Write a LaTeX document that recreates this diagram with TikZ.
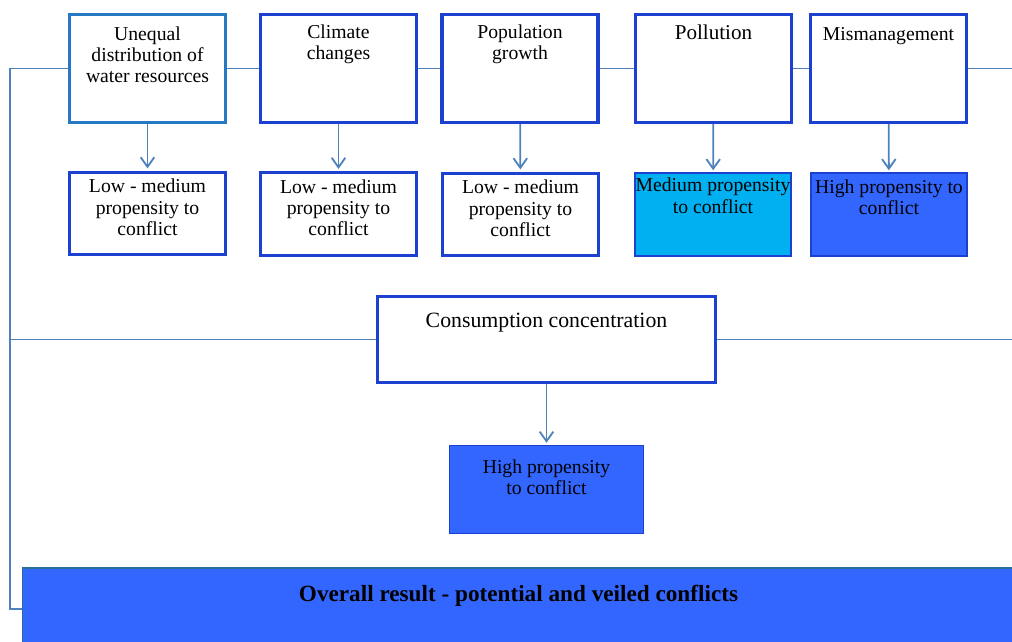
\documentclass[tikz,border=0pt]{standalone}
\usepackage{fontspec}
\setmainfont{Liberation Serif}
\usetikzlibrary{arrows.meta}

\definecolor{boxblue}{RGB}{28,64,208}
\definecolor{firstblue}{RGB}{36,120,196}
\definecolor{lineblue}{RGB}{79,129,189}
\definecolor{hiblue}{RGB}{51,102,255}
\definecolor{midcyan}{RGB}{0,176,240}
\definecolor{edgeteal}{RGB}{40,110,150}

\tikzstyle{factor} = [rectangle, draw=boxblue, line width=2.2pt, fill=white,
minimum width=3.9cm, minimum height=2.7cm, inner sep=0pt]
\tikzstyle{outcome} = [rectangle, draw=boxblue, line width=2.2pt, fill=white,
minimum width=3.9cm, minimum height=2.07cm, inner sep=0pt]
\tikzstyle{txt} = [align=center, anchor=north, inner sep=0pt, font=\fontsize{14}{15}\selectfont]
\tikzstyle{line} = [draw=lineblue, line width=1.3pt]
\tikzstyle{arrow} = [line,-{Straight Barb[length=2.4mm,width=3.4mm]},shorten >=1.5pt]

\begin{document}
\begin{tikzpicture}[x=0.025cm,y=-0.025cm]

\useasboundingbox (0,0) rectangle (1012,641);

% Causes on the top row
\node[factor, draw=firstblue, label={[txt,yshift=-9.5pt]north:{Unequal\\distribution of\\water resources}}] (unequal) at (147.5,68.5) {};
\node[factor, label={[txt,yshift=-8pt]north:{Climate\\changes}}] (climate) at (338.5,68.5) {};
\node[factor, label={[txt,yshift=-8pt]north:{Population\\growth}}] (population) at (520,68.5) {};
\node[factor, label={[txt,yshift=-8pt,font=\fontsize{15}{16}\selectfont]north:{Pollution}}] (pollution) at (713.5,68.5) {};
\node[factor, label={[txt,yshift=-10pt]north:{Mismanagement}}] (mismanage) at (888.5,68.5) {};

% Propensity for each cause
\node[outcome, label={[txt,yshift=-6pt]north:{Low - medium\\propensity to\\conflict}}] (lowA) at (147.5,213.5) {};
\node[outcome, label={[txt,yshift=-6pt]north:{Low - medium\\propensity to\\conflict}}] (lowB) at (338.5,214) {};
\node[outcome, label={[txt,yshift=-6pt]north:{Low - medium\\propensity to\\conflict}}] (lowC) at (520.5,214.5) {};
\node[outcome, fill=midcyan, line width=1pt, label={[txt,yshift=-4pt]north:{Medium propensity\\to conflict}}] (medium) at (713,214.5) {};
\node[outcome, fill=hiblue, line width=1pt, label={[txt,yshift=-5pt]north:{High propensity to\\conflict}}] (highA) at (889,214.5) {};

% Consumption and overall result
\node[factor, line width=1.6pt, minimum width=8.45cm, minimum height=2.15cm,
label={[txt,yshift=-12.5pt,font=\fontsize{15.5}{17}\selectfont]north:{Consumption concentration}}] (consumption) at (546.5,339.5) {};
\node[outcome, fill=hiblue, line width=0.8pt, minimum width=4.85cm, minimum height=2.2cm,
label={[txt,yshift=-10.5pt]north:{High propensity\\to conflict}}] (highB) at (546.5,489.5) {};
\node[rectangle, draw=edgeteal, line width=0.8pt, fill=hiblue, minimum width=24.8cm, minimum height=2.05cm,
label={[txt,yshift=-12.5pt,font=\fontsize{16.5}{18}\selectfont\bfseries]north:{Overall result - potential and veiled conflicts}}] (overall) at (518.5,609) {};

% Connectors
\coordinate (trunk) at (10,68.5);
\coordinate (rightTop) at (1012,68.5);
\coordinate (rightMid) at (1012,339.5);

\path[line] (unequal) -- (climate);
\path[line] (climate) -- (population);
\path[line] (population) -- (pollution);
\path[line] (pollution) -- (mismanage);
\path[line] (mismanage) -- (rightTop);
\path[line] (unequal) -- (trunk) |- (overall.west);
\path[line] (consumption.west) -- (consumption.west -| trunk);
\path[line] (consumption) -- (rightMid);

\path[arrow] (unequal) -- (lowA);
\path[arrow] (climate) -- (lowB);
\path[arrow] (population) -- (lowC);
\path[arrow] (pollution) -- (medium);
\path[arrow] (mismanage) -- (highA);
\path[arrow] (consumption) -- (highB);

\end{tikzpicture}
\end{document}
